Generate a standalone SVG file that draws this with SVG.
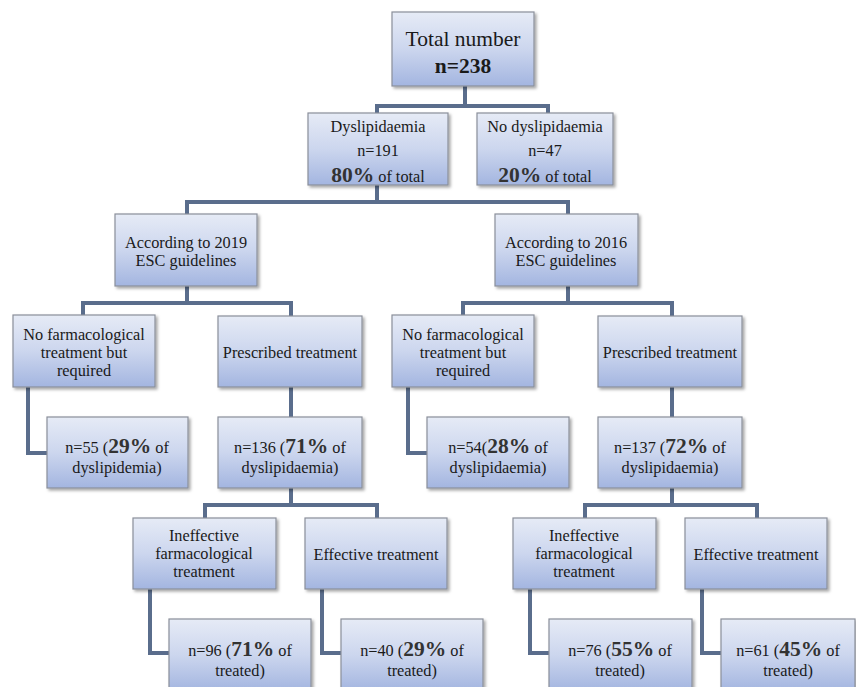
<svg xmlns="http://www.w3.org/2000/svg" width="856" height="687" viewBox="0 0 856 687">
<defs>
<linearGradient id="g" x1="0" y1="0" x2="0" y2="1">
<stop offset="0" stop-color="#e6ebf6"/>
<stop offset="0.5" stop-color="#ccd6ee"/>
<stop offset="1" stop-color="#a3b5e0"/>
</linearGradient>
<filter id="sh" x="-10%" y="-10%" width="130%" height="130%">
<feDropShadow dx="2" dy="2" stdDeviation="1.5" flood-color="#000" flood-opacity="0.35"/>
</filter>
</defs>
<style>
.b{fill:url(#g);stroke:#8a8f9a;stroke-width:1.2;filter:url(#sh)}
.c{fill:none;stroke:#5a6d8c;stroke-width:4}
text{font-family:"Liberation Serif","Times New Roman",serif;font-size:16.3px;fill:#1a1a1a;text-anchor:middle}
.big{font-size:21.5px}
.p{font-weight:bold;font-size:21.5px;fill:#333}
</style>
<rect width="856" height="687" fill="#fff"/>
<g id="connectors">
<path class="c" d="M465,86 V106 M377,113 V106 H548 V113"/>
<path class="c" d="M377,185 V202 M187,214 V202 H568 V214"/>
<path class="c" d="M187,286 V303 M83,315 V303 H291 V316"/>
<path class="c" d="M28,387 V453 H47"/>
<path class="c" d="M291,387 V417"/>
<path class="c" d="M291,488 V505 M205,518 V505 H377 V518"/>
<path class="c" d="M150,589 V653 H169"/>
<path class="c" d="M322,589 V653 H341"/>
<path class="c" d="M568,286 V303 M463,315 V303 H672 V316"/>
<path class="c" d="M408,387 V453 H427"/>
<path class="c" d="M672,387 V417"/>
<path class="c" d="M672,488 V505 M585,518 V505 H757 V518"/>
<path class="c" d="M530,589 V653 H549"/>
<path class="c" d="M702,589 V653 H721"/>
</g>
<g id="total"><rect class="b" x="392" y="12" width="142" height="74"/>
<text class="big" x="463" y="46">Total number</text>
<text class="big" x="463" y="73" font-weight="bold">n=238</text></g>
<g id="dysl"><rect class="b" x="308" y="113" width="140" height="72"/>
<text x="378" y="132">Dyslipidaemia</text>
<text x="378" y="156">n=191</text>
<text x="378" y="182"><tspan class="p">80%</tspan> of total</text></g>
<g id="nodysl"><rect class="b" x="477" y="113" width="136" height="72"/>
<text x="545" y="132">No dyslipidaemia</text>
<text x="545" y="156">n=47</text>
<text x="545" y="182"><tspan class="p">20%</tspan> of total</text></g>
<g id="acc2019"><rect class="b" x="115" y="214" width="142" height="72"/>
<text x="186" y="248">According to 2019</text>
<text x="186" y="266">ESC guidelines</text></g>
<g id="acc2016"><rect class="b" x="495" y="214" width="143" height="72"/>
<text x="566" y="248">According to 2016</text>
<text x="566" y="266">ESC guidelines</text></g>
<g id="nofarmL"><rect class="b" x="13" y="315" width="142" height="72"/>
<text x="84" y="340">No farmacological</text>
<text x="84" y="358">treatment but</text>
<text x="84" y="376">required</text></g>
<g id="prescL"><rect class="b" x="218" y="316" width="144" height="71"/>
<text x="290" y="358">Prescribed treatment</text></g>
<g id="n55"><rect class="b" x="47" y="417" width="141" height="71"/>
<text x="117" y="453">n=55 (<tspan class="p">29%</tspan> of</text>
<text x="117" y="473">dyslipidemia)</text></g>
<g id="n136"><rect class="b" x="218" y="417" width="144" height="71"/>
<text x="290" y="453">n=136 (<tspan class="p">71%</tspan> of</text>
<text x="290" y="473">dyslipidaemia)</text></g>
<g id="nofarmR"><rect class="b" x="392" y="315" width="142" height="72"/>
<text x="463" y="340">No farmacological</text>
<text x="463" y="358">treatment but</text>
<text x="463" y="376">required</text></g>
<g id="prescR"><rect class="b" x="598" y="316" width="144" height="71"/>
<text x="670" y="358">Prescribed treatment</text></g>
<g id="n54"><rect class="b" x="427" y="417" width="142" height="71"/>
<text x="498" y="453">n=54(<tspan class="p">28%</tspan> of</text>
<text x="498" y="473">dyslipidaemia)</text></g>
<g id="n137"><rect class="b" x="598" y="417" width="144" height="71"/>
<text x="670" y="453">n=137 (<tspan class="p">72%</tspan> of</text>
<text x="670" y="473">dyslipidaemia)</text></g>
<g id="inefL"><rect class="b" x="133" y="518" width="143" height="71"/>
<text x="204" y="541">Ineffective</text>
<text x="204" y="559">farmacological</text>
<text x="204" y="577">treatment</text></g>
<g id="effL"><rect class="b" x="305" y="518" width="142" height="71"/>
<text x="376" y="560">Effective treatment</text></g>
<g id="n96"><rect class="b" x="169" y="619" width="142" height="72"/>
<text x="240" y="656">n=96 (<tspan class="p">71%</tspan> of</text>
<text x="240" y="676">treated)</text></g>
<g id="n40"><rect class="b" x="341" y="619" width="142" height="72"/>
<text x="412" y="656">n=40 (<tspan class="p">29%</tspan> of</text>
<text x="412" y="676">treated)</text></g>
<g id="inefR"><rect class="b" x="513" y="518" width="143" height="71"/>
<text x="584" y="541">Ineffective</text>
<text x="584" y="559">farmacological</text>
<text x="584" y="577">treatment</text></g>
<g id="effR"><rect class="b" x="685" y="518" width="142" height="71"/>
<text x="756" y="560">Effective treatment</text></g>
<g id="n76"><rect class="b" x="549" y="619" width="143" height="72"/>
<text x="620" y="656">n=76 (<tspan class="p">55%</tspan> of</text>
<text x="620" y="676">treated)</text></g>
<g id="n61"><rect class="b" x="721" y="619" width="134" height="72"/>
<text x="788" y="656">n=61 (<tspan class="p">45%</tspan> of</text>
<text x="788" y="676">treated)</text></g>
</svg>
